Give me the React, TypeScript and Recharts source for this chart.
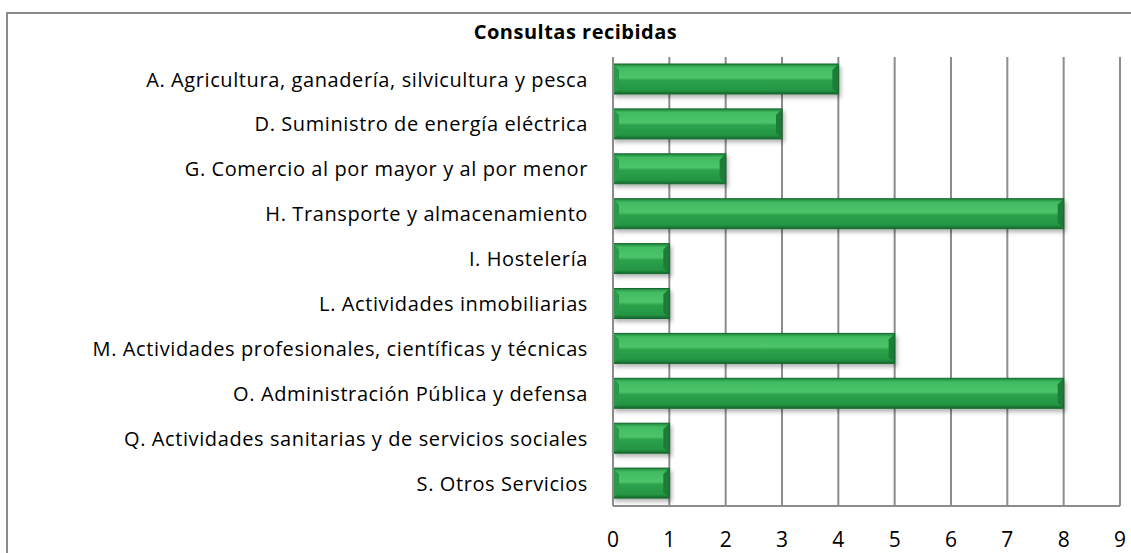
import React from 'react';
import { BarChart, Bar, XAxis, YAxis, CartesianGrid } from 'recharts';

const categories = [
  'A. Agricultura, ganadería, silvicultura y pesca',
  'D. Suministro de energía eléctrica',
  'G. Comercio al por mayor y al por menor',
  'H. Transporte y almacenamiento',
  'I. Hostelería',
  'L. Actividades inmobiliarias',
  'M. Actividades profesionales, científicas y técnicas',
  'O. Administración Pública y defensa',
  'Q. Actividades sanitarias y de servicios sociales',
  'S. Otros Servicios ',
];
const consultas = [4, 3, 2, 8, 1, 1, 5, 8, 1, 1];
const xTicks = [0, 1, 2, 3, 4, 5, 6, 7, 8, 9];

const data = categories.map((name, i) => ({ name, value: consultas[i] }));

const FONT = '"Open Sans", "Noto Sans", sans-serif';

const BevelBar = (props: any) => {
  const { x, y, width, height } = props;
  if (!width || width <= 0) return null;
  const b = Math.min(6, width / 2);
  return (
    <g filter="url(#barShadow)">
      <rect x={x} y={y} width={width} height={height} fill="url(#barGrad)" />
      <polygon
        points={`${x + width - b},${y + b} ${x + width},${y} ${x + width},${y + height} ${x + width - b},${y + height - b}`}
        fill="#1d7c38"
      />
      <polygon
        points={`${x},${y} ${x + b},${y + b} ${x + b},${y + height - b} ${x},${y + height}`}
        fill="#2a9a48"
      />
      <rect x={x} y={y} width={width} height={height} fill="none" stroke="#17692f" strokeWidth={1} />
    </g>
  );
};

export default function App() {
  return (
    <div style={{ position: 'absolute', left: 0, top: 0, width: 1131, height: 553, overflow: 'hidden', background: '#fff' }}>
      <div
        style={{
          position: 'absolute',
          left: 6,
          top: 12,
          width: 1200,
          height: 600,
          border: '2px solid #8a8a8a',
        }}
      />
      <div
        style={{
          position: 'absolute',
          left: 0,
          top: 18,
          width: 1151,
          textAlign: 'center',
          fontFamily: FONT,
          fontWeight: 'bold',
          fontSize: 20,
          letterSpacing: 0.5,
          color: '#000',
        }}
      >
        Consultas recibidas
      </div>
      <div style={{ position: 'absolute', left: 0, top: 0 }}>
        <BarChart
          width={1131}
          height={553}
          data={data}
          layout="vertical"
          margin={{ top: 57, right: 11, bottom: 0, left: 0 }}
          barCategoryGap={14}
        >
          <defs>
            <linearGradient id="barGrad" x1="0" y1="0" x2="0" y2="1">
              <stop offset="0%" stopColor="#1c8439" />
              <stop offset="12%" stopColor="#42bb62" />
              <stop offset="45%" stopColor="#4cc46a" />
              <stop offset="55%" stopColor="#2ca24b" />
              <stop offset="88%" stopColor="#249544" />
              <stop offset="100%" stopColor="#15652c" />
            </linearGradient>
            <filter id="barShadow" x="-5%" y="-20%" width="115%" height="160%">
              <feDropShadow dx="2" dy="3" stdDeviation="2" floodColor="#000" floodOpacity="0.3" />
            </filter>
          </defs>
          <CartesianGrid horizontal={false} stroke="#8c8c8c" strokeWidth={2} />
          <XAxis
            type="number"
            domain={[0, 9]}
            ticks={xTicks}
            interval={0}
            height={47}
            axisLine={{ stroke: '#8c8c8c', strokeWidth: 2 }}
            tickLine={false}
            tickSize={0}
            tickMargin={26}
            tick={{ fill: '#000', fontSize: 21, fontFamily: FONT }}
          />
          <YAxis
            type="category"
            dataKey="name"
            width={613}
            axisLine={{ stroke: '#8c8c8c', strokeWidth: 2 }}
            tickLine={false}
            tickSize={0}
            tickMargin={25}
            interval={0}
            tick={{ fill: '#000', fontSize: 20, fontFamily: FONT, letterSpacing: 0.6 }}
          />
          <Bar dataKey="value" barSize={30} shape={<BevelBar />} isAnimationActive={false} />
        </BarChart>
      </div>
    </div>
  );
}
